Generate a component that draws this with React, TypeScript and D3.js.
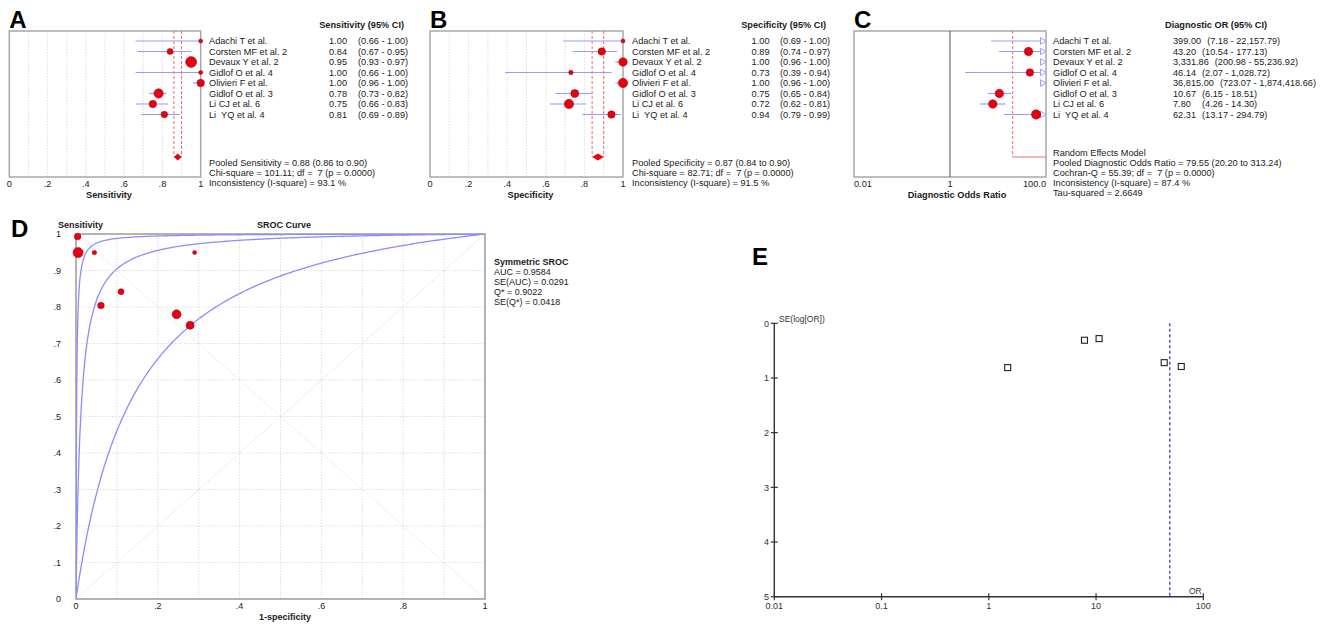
import React from "react";
import * as d3 from "d3";

// ---------- DATA ----------
const studies = [
  "Adachi T et al.",
  "Corsten MF et al. 2",
  "Devaux Y et al. 2",
  "Gidlof O et al. 4",
  "Olivieri F et al.",
  "Gidlof O et al. 3",
  "Li CJ et al. 6",
  "Li  YQ et al. 4",
];

const sensEst = [1.0, 0.84, 0.95, 1.0, 1.0, 0.78, 0.75, 0.81];
const sensLo = [0.66, 0.67, 0.93, 0.66, 0.96, 0.73, 0.66, 0.69];
const sensHi = [1.0, 0.95, 0.97, 1.0, 1.0, 0.82, 0.83, 0.89];
const sensWeight = [4, 9, 30, 4, 14, 22, 14, 11];
const sensPooled = [0.88, 0.86, 0.9];
const sensStats = [
  "Pooled Sensitivity = 0.88 (0.86 to 0.90)",
  "Chi-square = 101.11; df =  7 (p = 0.0000)",
  "Inconsistency (I-square) = 93.1 %",
];

const specEst = [1.0, 0.89, 1.0, 0.73, 1.0, 0.75, 0.72, 0.94];
const specLo = [0.69, 0.74, 0.96, 0.39, 0.96, 0.65, 0.62, 0.79];
const specHi = [1.0, 0.97, 1.0, 0.94, 1.0, 0.84, 0.81, 0.99];
const specWeight = [4, 14, 18, 5, 22, 16, 22, 14];
const specPooled = [0.87, 0.84, 0.9];
const specStats = [
  "Pooled Specificity = 0.87 (0.84 to 0.90)",
  "Chi-square = 82.71; df =  7 (p = 0.0000)",
  "Inconsistency (I-square) = 91.5 %",
];

const dorEst = [399.0, 43.2, 3331.86, 46.14, 36815.0, 10.67, 7.8, 62.31];
const dorLo = [7.18, 10.54, 200.98, 2.07, 723.07, 6.15, 4.26, 13.17];
const dorHi = [22157.79, 177.13, 55236.92, 1028.72, 1874418.66, 18.51, 14.3, 294.79];
const dorWeight = [14, 18, 12, 14, 12, 18, 18, 22];
const dorValueText = ["399.00", "43.20", "3,331.86", "46.14", "36,815.00", "10.67", "7.80", "62.31"];
const dorCiText = [
  "(7.18 - 22,157.79)",
  "(10.54 - 177.13)",
  "(200.98 - 55,236.92)",
  "(2.07 - 1,028.72)",
  "(723.07 - 1,874,418.66)",
  "(6.15 - 18.51)",
  "(4.26 - 14.30)",
  "(13.17 - 294.79)",
];
const dorPooled = [79.55, 20.2, 313.24];
const dorStats = [
  "Random Effects Model",
  "Pooled Diagnostic Odds Ratio = 79.55 (20.20 to 313.24)",
  "Cochran-Q = 55.39; df =  7 (p = 0.0000)",
  "Inconsistency (I-square) = 87.4 %",
  "Tau-squared = 2.6649",
];

const forestTicks = [0, 0.2, 0.4, 0.6, 0.8, 1];
const forestTickLabels = ["0", ".2", ".4", ".6", ".8", "1"];
const dorTicks = [0.01, 1, 100];
const dorTickLabels = ["0.01", "1", "100.0"];

const srocFpr = [0.004, 0.005, 0.045, 0.29, 0.11, 0.061, 0.246, 0.279];
const srocSens = [0.993, 0.949, 0.949, 0.949, 0.842, 0.804, 0.78, 0.75];
const srocWeight = [11, 25, 5, 4, 9, 11, 20, 16];
const srocLogDOR = [6.6, 4.445, 2.04];
const srocStats = ["AUC = 0.9584", "SE(AUC) = 0.0291", "Q* = 0.9022", "SE(Q*) = 0.0418"];
const srocYTicks = [0, 0.1, 0.2, 0.3, 0.4, 0.5, 0.6, 0.7, 0.8, 0.9, 1];
const srocXTicks = [0, 0.2, 0.4, 0.6, 0.8, 1];

const funnelOR = [1.5, 7.8, 10.67, 43.2, 62.31];
const funnelSE = [0.81, 0.31, 0.28, 0.72, 0.79];
const funnelRef = 48.7;
const funnelYTicks = [0, 1, 2, 3, 4, 5];
const funnelXTicks = [0.01, 0.1, 1, 10, 100];
const funnelXLabels = ["0.01", "0.1", "1", "10", "100"];

// ---------- STYLE ----------
const FONT = "'Liberation Sans', Arial, sans-serif";
const FS = 9.2;
const RED = "#e60012";
const RED_DARK = "#9a0000";
const CI_BLUE = "#9a9aff";
const FRAME = "#a8a8a8";
const GRID = "#d6d6d6";
const TXT = "#1a1a1a";

const FRAME_TOP = 31;
const FRAME_BOT = 177;
const POOL_Y = 157;
const rowY = d3.scaleLinear().domain([0, 7]).range([41, 114.5]);
const rScale = d3.scaleSqrt().domain([0, 1]).range([0, 1]);

const txt = (extra: any = {}) => ({
  fontFamily: FONT,
  fontSize: FS,
  fill: TXT,
  style: { whiteSpace: "pre" as const },
  ...extra,
});

function Letter({ x, y, ch }: { x: number; y: number; ch: string }) {
  return (
    <text x={x} y={y} fontFamily={FONT} fontSize={24} fontWeight="bold" fill="#000">
      {ch}
    </text>
  );
}

function ForestProp({
  x0, x1, est, lo, hi, weight, pooled, stats, header, headerRight, nameX, valRight, ciX, title, letter,
}: any) {
  const sx = d3.scaleLinear().domain([0, 1]).range([x0, x1]);
  const grid = d3.range(1, 10).map((d) => d / 10);
  return (
    <g>
      <Letter x={x0} y={28.3} ch={letter} />
      {grid.map((g) => (
        <line key={g} x1={sx(g)} x2={sx(g)} y1={FRAME_TOP} y2={FRAME_BOT} stroke={GRID} strokeWidth={0.8} strokeDasharray="1.5,1.5" />
      ))}
      <rect x={x0} y={FRAME_TOP} width={x1 - x0} height={FRAME_BOT - FRAME_TOP} fill="none" stroke={FRAME} strokeWidth={1.5} />
      {[pooled[1], pooled[2]].map((v: number, i: number) => (
        <line key={i} x1={sx(v)} x2={sx(v)} y1={FRAME_TOP} y2={POOL_Y} stroke="#f06a6a" strokeWidth={1} strokeDasharray="3,2" />
      ))}
      <path
        d={`M${sx(pooled[1])},${POOL_Y} L${sx(pooled[0])},${POOL_Y - 3.5} L${sx(pooled[2])},${POOL_Y} L${sx(pooled[0])},${POOL_Y + 3.5} Z`}
        fill={RED}
      />
      {est.map((e: number, i: number) => (
        <g key={i}>
          <line x1={sx(lo[i])} x2={sx(hi[i])} y1={rowY(i)} y2={rowY(i)} stroke={CI_BLUE} strokeWidth={1.2} />
          <circle cx={sx(e)} cy={rowY(i)} r={rScale(weight[i])} fill={RED} stroke={RED_DARK} strokeWidth={0.5} />
        </g>
      ))}
      {studies.map((s, i) => (
        <text key={s} x={nameX} y={rowY(i) + 3.3} {...txt()}>{s}</text>
      ))}
      <text x={headerRight} y={28} textAnchor="end" {...txt({ fontWeight: "bold" })}>{header}</text>
      {est.map((e: number, i: number) => (
        <g key={i}>
          <text x={valRight} y={rowY(i) + 3.3} textAnchor="end" {...txt()}>{e.toFixed(2)}</text>
          <text x={ciX} y={rowY(i) + 3.3} {...txt()}>{`(${lo[i].toFixed(2)} - ${hi[i].toFixed(2)})`}</text>
        </g>
      ))}
      {stats.map((s: string, i: number) => (
        <text key={i} x={nameX} y={166 + i * 10} {...txt()}>{s}</text>
      ))}
      {forestTicks.map((t, i) => (
        <text key={t} x={sx(t)} y={186.5} textAnchor="middle" {...txt()}>{forestTickLabels[i]}</text>
      ))}
      <text x={(x0 + x1) / 2 + 4} y={198} textAnchor="middle" {...txt({ fontWeight: "bold" })}>{title}</text>
    </g>
  );
}

function estWidth(s: string) {
  let w = 0;
  for (const c of s) w += /[0-9]/.test(c) ? 0.556 * FS : 0.278 * FS;
  return w;
}

function ForestDOR() {
  const x0 = 854, x1 = 1046;
  const sx = d3.scaleLog().domain([0.01, 100]).range([x0, x1]);
  const nameX = 1053, valX = 1173;
  const maxV = 100;
  return (
    <g>
      <defs>
        <clipPath id="cClip">
          <rect x={840} y={0} width={478} height={210} />
        </clipPath>
      </defs>
      <Letter x={x0} y={28.3} ch="C" />
      <rect x={x0} y={FRAME_TOP} width={x1 - x0} height={FRAME_BOT - FRAME_TOP} fill="none" stroke={FRAME} strokeWidth={1.5} />
      <line x1={sx(1)} x2={sx(1)} y1={FRAME_TOP} y2={FRAME_BOT} stroke="#555" strokeWidth={1} />
      <line x1={sx(dorPooled[1])} x2={sx(dorPooled[1])} y1={FRAME_TOP} y2={POOL_Y} stroke="#f06a6a" strokeWidth={1} strokeDasharray="3,2" />
      <line x1={sx(dorPooled[1])} x2={sx(Math.min(dorPooled[2], maxV))} y1={POOL_Y} y2={POOL_Y} stroke="#f06a6a" strokeWidth={1.2} />
      {dorEst.map((e, i) => {
        const y = rowY(i);
        const a = Math.max(dorLo[i], 0.01);
        const b = Math.min(dorHi[i], maxV);
        return (
          <g key={i}>
            {a < maxV && <line x1={sx(a)} x2={sx(b)} y1={y} y2={y} stroke={CI_BLUE} strokeWidth={1.2} />}
            {dorHi[i] > maxV && (
              <path d={`M${x1 - 5.5},${y - 3.3} L${x1},${y} L${x1 - 5.5},${y + 3.3} Z`} fill="#fff" stroke={CI_BLUE} strokeWidth={1} />
            )}
            {e <= maxV && <circle cx={sx(e)} cy={y} r={rScale(dorWeight[i])} fill={RED} stroke={RED_DARK} strokeWidth={0.5} />}
          </g>
        );
      })}
      <g clipPath="url(#cClip)">
        {studies.map((s, i) => (
          <text key={s} x={nameX} y={rowY(i) + 3.3} {...txt()}>{s}</text>
        ))}
        <text x={1165} y={28} {...txt({ fontWeight: "bold" })}>Diagnostic OR (95% CI)</text>
        {dorValueText.map((v, i) => (
          <g key={i}>
            <text x={valX} y={rowY(i) + 3.3} {...txt()}>{v}</text>
            <text x={valX + Math.max(29, estWidth(v) + 6)} y={rowY(i) + 3.3} {...txt()}>{dorCiText[i]}</text>
          </g>
        ))}
        {dorStats.map((s, i) => (
          <text key={i} x={nameX} y={155.5 + i * 10.2} {...txt()}>{s}</text>
        ))}
      </g>
      {dorTicks.map((t, i) => (
        <text key={t} x={sx(t)} y={186.5} textAnchor={i === 0 ? "start" : i === dorTicks.length - 1 ? "end" : "middle"} {...txt()}>
          {dorTickLabels[i]}
        </text>
      ))}
      <text x={(x0 + x1) / 2 + 7} y={198} textAnchor="middle" {...txt({ fontWeight: "bold" })}>Diagnostic Odds Ratio</text>
    </g>
  );
}

function SROC() {
  const sx = d3.scaleLinear().domain([0, 1]).range([76, 485]);
  const sy = d3.scaleLinear().domain([0, 1]).range([599, 234]);
  const grid = d3.range(1, 10).map((d) => d / 10);
  const fprs = [0, ...d3.range(-7, -2, 0.02).map((v) => Math.pow(10, v)), ...d3.range(0.01, 1.00001, 0.004)];
  const line = d3
    .line<number[]>()
    .x((d) => sx(d[0]))
    .y((d) => sy(d[1]));
  const curve = (D: number) =>
    fprs.map((f) => {
      if (f <= 0) return [0, 0];
      const lf = Math.log(f / (1 - Math.max(1e-9, 1 - f) === 0 ? 1 : f / f) );
      return [f, 0];
    });
  const curvePts = (D: number) =>
    fprs.map((f) => {
      if (f <= 0) return [0, 0];
      if (f >= 1) return [1, 1];
      const lt = D + Math.log(f / (1 - f));
      return [f, 1 / (1 + Math.exp(-lt))];
    });
  void curve;
  return (
    <g>
      <Letter x={11} y={237} ch="D" />
      <defs>
        <clipPath id="dClip">
          <rect x={76} y={234} width={409} height={365} />
        </clipPath>
      </defs>
      {grid.map((g) => (
        <g key={g}>
          <line x1={sx(g)} x2={sx(g)} y1={sy(0)} y2={sy(1)} stroke={GRID} strokeWidth={0.8} strokeDasharray="1.5,1.5" />
          <line x1={sx(0)} x2={sx(1)} y1={sy(g)} y2={sy(g)} stroke={GRID} strokeWidth={0.8} strokeDasharray="1.5,1.5" />
        </g>
      ))}
      <line x1={sx(0)} y1={sy(0)} x2={sx(1)} y2={sy(1)} stroke={GRID} strokeWidth={0.8} strokeDasharray="1.5,1.5" />
      <line x1={sx(0)} y1={sy(1)} x2={sx(1)} y2={sy(0)} stroke={GRID} strokeWidth={0.8} strokeDasharray="1.5,1.5" />
      <rect x={76} y={234} width={409} height={365} fill="none" stroke="#9a9a9a" strokeWidth={1.5} />
      <g clipPath="url(#dClip)">
        {srocLogDOR.map((D) => (
          <path key={D} d={line(curvePts(D) as any) || ""} fill="none" stroke="#8c8cff" strokeWidth={1.3} />
        ))}
      </g>
      {srocFpr.map((f, i) => (
        <circle key={i} cx={sx(f)} cy={sy(srocSens[i])} r={rScale(srocWeight[i])} fill={RED} stroke={RED_DARK} strokeWidth={0.5} />
      ))}
      {srocYTicks.map((t) => (
        <text key={t} x={61} y={sy(t) + 3.2} textAnchor="end" {...txt({ fontSize: 9 })}>
          {t === 0 ? "0" : t === 1 ? "1" : "." + Math.round(t * 10)}
        </text>
      ))}
      {srocXTicks.map((t) => (
        <text key={t} x={sx(t)} y={608.5} textAnchor="middle" {...txt({ fontSize: 9 })}>
          {t === 0 ? "0" : t === 1 ? "1" : "." + Math.round(t * 10)}
        </text>
      ))}
      <text x={58} y={227.5} {...txt({ fontWeight: "bold", fontSize: 9 })}>Sensitivity</text>
      <text x={257} y={227.5} {...txt({ fontWeight: "bold", fontSize: 9 })}>SROC Curve</text>
      <text x={285} y={620} textAnchor="middle" {...txt({ fontWeight: "bold", fontSize: 9 })}>1-specificity</text>
      <text x={494} y={265} {...txt({ fontWeight: "bold", fontSize: 9 })}>Symmetric SROC</text>
      {srocStats.map((s, i) => (
        <text key={i} x={494} y={274.5 + i * 10.2} {...txt({ fontSize: 9 })}>{s}</text>
      ))}
    </g>
  );
}

function Funnel() {
  const sx = d3.scaleLog().domain([0.01, 100]).range([774.3, 1203.3]);
  const sy = d3.scaleLinear().domain([0, 5]).range([323.3, 596.7]);
  const AX = "#333";
  return (
    <g>
      <Letter x={752} y={265} ch="E" />
      <line x1={sx(0.01)} x2={sx(0.01)} y1={sy(0)} y2={sy(5)} stroke={AX} strokeWidth={1.4} />
      <line x1={sx(0.01)} x2={sx(100)} y1={sy(5)} y2={sy(5)} stroke={AX} strokeWidth={1.4} />
      {funnelYTicks.map((t) => (
        <g key={t}>
          <line x1={sx(0.01) - 3.5} x2={sx(0.01) + 3.5} y1={sy(t)} y2={sy(t)} stroke={AX} strokeWidth={1.2} />
          <text x={769} y={sy(t) + 3.2} textAnchor="end" {...txt({ fontSize: 9, fill: "#333" })}>{t}</text>
        </g>
      ))}
      {funnelXTicks.map((t, i) => (
        <g key={t}>
          <line x1={sx(t)} x2={sx(t)} y1={sy(5) - 3.5} y2={sy(5) + 3.5} stroke={AX} strokeWidth={1.2} />
          <text x={sx(t)} y={609} textAnchor="middle" {...txt({ fontSize: 9, fill: "#333" })}>{funnelXLabels[i]}</text>
        </g>
      ))}
      <line x1={sx(funnelRef)} x2={sx(funnelRef)} y1={sy(0)} y2={sy(5)} stroke="#2a2ad0" strokeWidth={1.2} strokeDasharray="3,2.5" />
      {funnelOR.map((o, i) => (
        <rect key={i} x={sx(o) - 3} y={sy(funnelSE[i]) - 3} width={6} height={6} fill="#fff" stroke="#222" strokeWidth={1.1} />
      ))}
      <text x={779} y={322} {...txt({ fontSize: 8.5, fill: "#333" })}>SE(log[OR])</text>
      <text x={1189} y={594} {...txt({ fontSize: 8.5, fill: "#333" })}>OR</text>
    </g>
  );
}

export default function App() {
  return (
    <svg
      width={1327}
      height={624}
      viewBox="0 0 1327 624"
      style={{ position: "absolute", left: 0, top: 0, background: "#fff" }}
    >
      <rect width={1327} height={624} fill="#fff" />
      <ForestProp
        x0={9.3} x1={200.7}
        est={sensEst} lo={sensLo} hi={sensHi} weight={sensWeight}
        pooled={sensPooled} stats={sensStats}
        header="Sensitivity (95% CI)" headerRight={404}
        nameX={209} valRight={347} ciX={358}
        title="Sensitivity" letter="A"
      />
      <ForestProp
        x0={430} x1={623}
        est={specEst} lo={specLo} hi={specHi} weight={specWeight}
        pooled={specPooled} stats={specStats}
        header="Specificity (95% CI)" headerRight={826}
        nameX={632} valRight={769.5} ciX={780}
        title="Specificity" letter="B"
      />
      <ForestDOR />
      <SROC />
      <Funnel />
    </svg>
  );
}
